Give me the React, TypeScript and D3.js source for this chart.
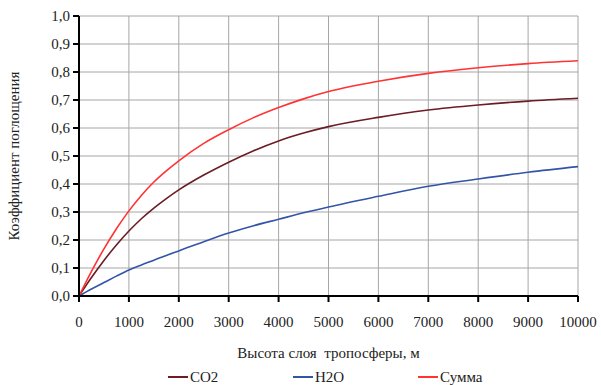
import React from "react";
import * as d3 from "d3";

// Height of the troposphere layer, m
const heights = [0, 250, 500, 750, 1000, 1250, 1500, 1750, 2000, 2500, 3000, 3500, 4000, 4500, 5000, 6000, 7000, 8000, 9000, 10000];
// Absorption coefficient per gas and the total
const co2 = [0, 0.066, 0.127, 0.182, 0.232, 0.276, 0.314, 0.348, 0.379, 0.432, 0.478, 0.519, 0.554, 0.582, 0.605, 0.638, 0.664, 0.682, 0.696, 0.706];
const h2o = [0, 0.025, 0.048, 0.071, 0.093, 0.111, 0.128, 0.145, 0.161, 0.194, 0.225, 0.251, 0.274, 0.297, 0.318, 0.356, 0.392, 0.418, 0.442, 0.462];
const total = [0, 0.088, 0.168, 0.24, 0.304, 0.359, 0.407, 0.447, 0.483, 0.545, 0.594, 0.637, 0.673, 0.704, 0.73, 0.767, 0.795, 0.815, 0.83, 0.84];

const xTicks = [0, 1000, 2000, 3000, 4000, 5000, 6000, 7000, 8000, 9000, 10000];
const yTicks = [0, 0.1, 0.2, 0.3, 0.4, 0.5, 0.6, 0.7, 0.8, 0.9, 1.0];

const seriesNames = ["CO2", "H2O", "Сумма"];
const seriesColors = ["#6b1c24", "#3355a8", "#ff3333"];

const W = 601;
const H = 385;
const M = { left: 79, right: 578, top: 16, bottom: 296 };
const FONT =
  '"Liberation Serif", "Tinos", "Noto Serif", "DejaVu Serif", "FreeSerif", "Times New Roman", Times, serif';

export default function App() {
  const x = d3.scaleLinear().domain([0, 10000]).range([M.left, M.right]);
  const y = d3.scaleLinear().domain([0, 1]).range([M.bottom, M.top]);
  const line = d3
    .line<number>()
    .x((_, i) => x(heights[i]))
    .y((d) => y(d))
    .curve(d3.curveMonotoneX);
  const series = [co2, h2o, total];
  const fmt = (v: number) => v.toFixed(1).replace(".", ",");

  const legendX = [168, 293, 418];
  const textStyle = { fontFamily: FONT };

  return (
    <svg
      width={W}
      height={H}
      style={{ position: "absolute", left: 0, top: 0, background: "#fff", fontFamily: FONT }}
    >
      {/* grid */}
      {xTicks.slice(1).map((t) => (
        <line key={"gx" + t} x1={x(t)} x2={x(t)} y1={M.top} y2={M.bottom} stroke="#a6a6a6" strokeWidth={1} />
      ))}
      {yTicks.slice(1).map((t) => (
        <line key={"gy" + t} x1={M.left} x2={M.right} y1={y(t)} y2={y(t)} stroke="#a6a6a6" strokeWidth={1} />
      ))}

      {/* series */}
      {series.map((s, i) => (
        <path key={seriesNames[i]} d={line(s) || ""} fill="none" stroke={seriesColors[i]} strokeWidth={1.6} />
      ))}

      {/* axes */}
      <line x1={M.left} x2={M.left} y1={M.top} y2={M.bottom} stroke="#000" strokeWidth={2} />
      <line x1={M.left} x2={M.right} y1={M.bottom} y2={M.bottom} stroke="#000" strokeWidth={2} />
      {yTicks.map((t) => (
        <g key={"ty" + t}>
          <line x1={M.left - 6} x2={M.left} y1={y(t)} y2={y(t)} stroke="#000" strokeWidth={2} />
          <text x={M.left - 9} y={y(t)} dy="0.35em" textAnchor="end" fontSize={15} fill="#222" style={textStyle}>
            {fmt(t)}
          </text>
        </g>
      ))}
      {xTicks.map((t) => (
        <g key={"tx" + t}>
          <line x1={x(t)} x2={x(t)} y1={M.bottom} y2={M.bottom + 6} stroke="#000" strokeWidth={2} />
          <text x={x(t)} y={327} textAnchor="middle" fontSize={15} fill="#222" style={textStyle}>
            {t}
          </text>
        </g>
      ))}

      {/* axis titles */}
      <text
        x={(M.left + M.right) / 2}
        y={358}
        textAnchor="middle"
        fontSize={15}
        fill="#222"
        style={{ ...textStyle, whiteSpace: "pre" }}
      >
        Высота слоя  тропосферы, м
      </text>
      <text
        transform={`translate(19, ${(M.top + M.bottom) / 2}) rotate(-90)`}
        textAnchor="middle"
        fontSize={15}
        fill="#222"
        style={textStyle}
      >
        Коэффициент поглощения
      </text>

      {/* legend */}
      {seriesNames.map((n, i) => (
        <g key={"lg" + n}>
          <line x1={legendX[i]} x2={legendX[i] + 20} y1={377} y2={377} stroke={seriesColors[i]} strokeWidth={2} />
          <text x={legendX[i] + 22} y={382} fontSize={15} fill="#222" style={textStyle}>
            {n}
          </text>
        </g>
      ))}
    </svg>
  );
}
